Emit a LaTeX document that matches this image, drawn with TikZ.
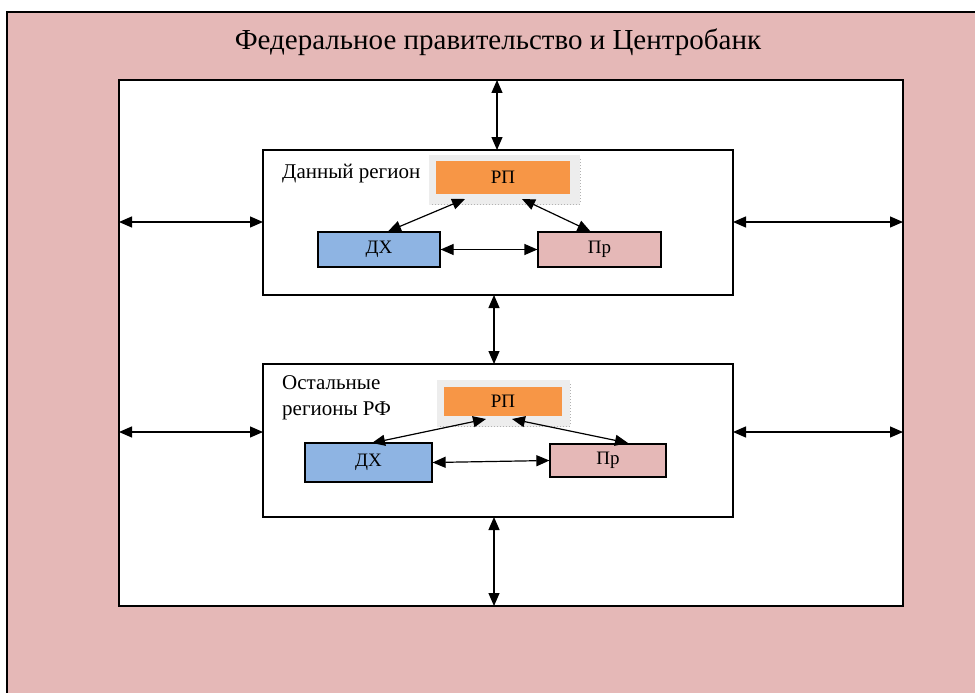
\documentclass[tikz,border=0pt]{standalone}
\usepackage{fontspec}
\setmainfont{Liberation Serif}
\usetikzlibrary{arrows.meta}
\definecolor{pinkbg}{HTML}{E5B8B7}
\definecolor{orng}{HTML}{F79646}
\definecolor{blu}{HTML}{8EB4E3}
\definecolor{shad}{HTML}{EDEDED}
\tikzset{
  box/.style={draw=black, line width=1.2pt, inner sep=0pt},
  arr/.style={line width=1.2pt, {Triangle[length=13pt,width=11pt]}-{Triangle[length=13pt,width=11pt]}},
  lbl/.style={font=\fontsize{21}{26}\selectfont, anchor=base west, inner sep=0pt},
  boxtxt/.style={font=\fontsize{19}{22}\selectfont}
}
\begin{document}
\begin{tikzpicture}[x=1pt,y=-1pt]
\useasboundingbox (0,0) rectangle (975,693);
\fill[white] (0,0) rectangle (975,693);
% outer
\fill[pinkbg] (7,12) rectangle (980,700);
\draw[line width=1.2pt] (7,700) -- (7,12) -- (980,12);
\node[font=\fontsize{29}{34}\selectfont, anchor=base, inner sep=0pt] (title) at (498,50) {Федеральное правительство и Центробанк};
% inner white
\node[box, fill=white, minimum width=784pt, minimum height=526pt] (inner) at (511,343) {};
% region 1
\node[box, fill=white, minimum width=470pt, minimum height=145pt] (reg1) at (498,222.5) {};
\node[lbl] (l1) at (282,178) {Данный регион};
\fill[shad] (429,155) rectangle (580,205);
\draw[gray!60, line width=1pt, dotted] (432,204) -- (580,204) -- (580,158);
\node[fill=orng, minimum width=134pt, minimum height=33pt, inner sep=0pt, boxtxt] (rp1) at (503,177.5) {РП};
\node[box, fill=blu, minimum width=122pt, minimum height=35pt, boxtxt] (dx1) at (379,249.5) {ДХ};
\node[box, fill=pinkbg, minimum width=123pt, minimum height=35pt, boxtxt] (pr1) at (599.5,249.5) {Пр};
\draw[arr] ([xshift=9pt]dx1.north) -- (465,199);
\draw[arr] (522,199) -- ([xshift=-9pt]pr1.north);
\draw[arr] (dx1.east) -- (pr1.west);
% region 2
\node[box, fill=white, minimum width=470pt, minimum height=153pt] (reg2) at (498,440.5) {};
\node[lbl] (l2) at (282,389) {Остальные};
\node[lbl] (l2b) at (282,415) {регионы РФ};
\fill[shad] (437,380) rectangle (570,427);
\draw[gray!60, line width=1pt, dotted] (440,426) -- (570,426) -- (570,383);
\node[fill=orng, minimum width=118pt, minimum height=29pt, inner sep=0pt, boxtxt] (rp2) at (503,401.5) {РП};
\node[box, fill=blu, minimum width=127pt, minimum height=39pt, boxtxt] (dx2) at (368.5,462.5) {ДХ};
\node[box, fill=pinkbg, minimum width=116pt, minimum height=33pt, boxtxt] (pr2) at (608,460.5) {Пр};
\draw[arr] (372,443) -- (486,419);
\draw[arr] (512,419) -- (628,443);
\draw[arr] (dx2.east) -- (pr2.west);
% vertical arrows
\draw[arr] (497,80) -- (497,150);
\draw[arr] (494,295) -- (494,364);
\draw[arr] (494,517) -- (494,606);
% horizontal arrows
\draw[arr] (119,222) -- (263,222);
\draw[arr] (733,222) -- (903,222);
\draw[arr] (119,432) -- (263,432);
\draw[arr] (733,432) -- (903,432);
\end{tikzpicture}
\end{document}
